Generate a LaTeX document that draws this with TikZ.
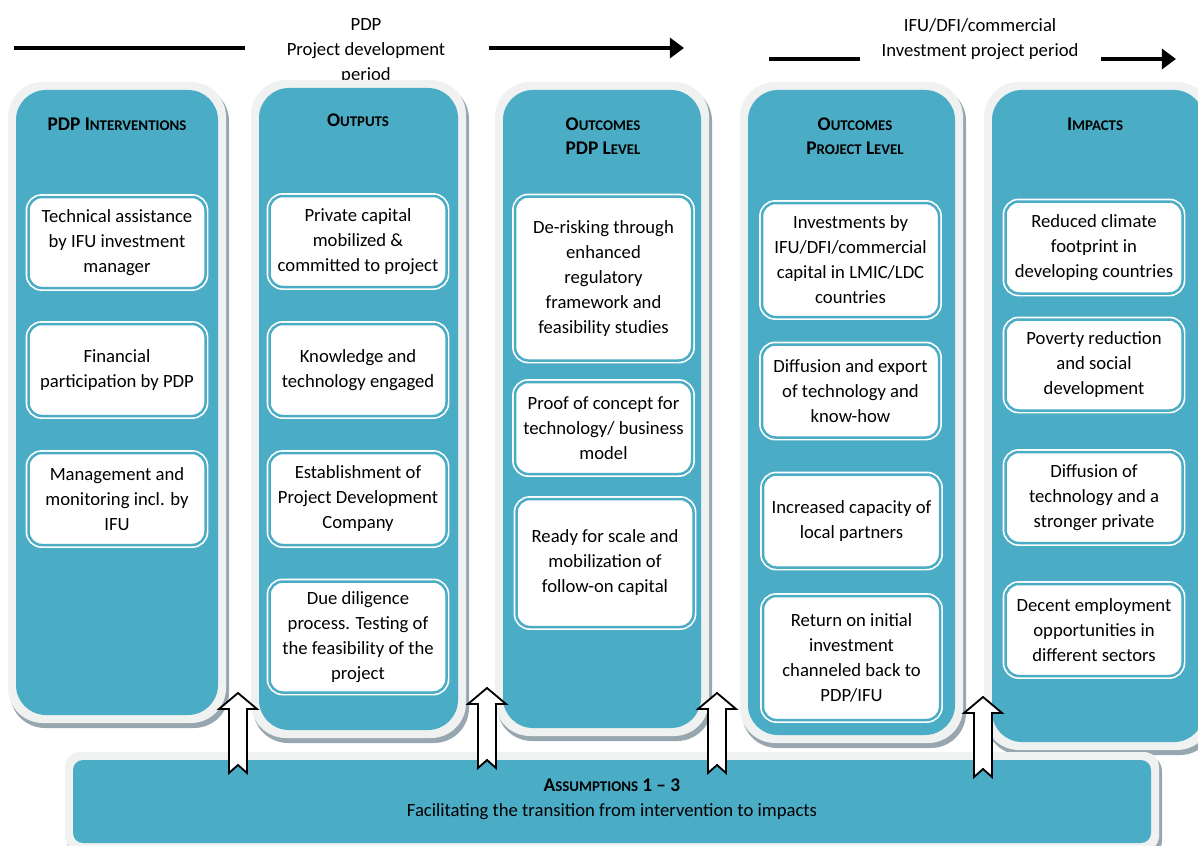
\documentclass[tikz,border=0pt]{standalone}
\usepackage{fontspec}
\setmainfont{Carlito}
\usepackage{tikz}
\usetikzlibrary{arrows.meta}

\newdimen\px \px=0.6pt
\definecolor{ifuteal}{RGB}{75,172,198}
\definecolor{rimgrey}{RGB}{240,241,241}
\definecolor{shadegrey}{RGB}{152,167,175}
\newcommand{\hcap}[2]{{\fontsize{11.6}{14}\selectfont #1}{\fontsize{8.9}{14}\selectfont #2}}
\newcommand{\tealcol}[5]{%
  \fill[shadegrey, rounded corners=#5+3pt] (#1-6,#2-4) rectangle (#3+11,#4+13);
  \fill[rimgrey, rounded corners=#5+3pt] (#1-8,#2-8) rectangle (#3+8,#4+8);
  \fill[ifuteal, rounded corners=#5] (#1,#2) rectangle (#3,#4);}

\tikzset{
  box/.style={draw=white, double=ifuteal, double distance=1.5pt, line width=1pt, fill=white,
    rounded corners=8pt, align=center, inner sep=1pt, minimum width=177*\px, minimum height=#1*\px,
    font=\fontsize{11.2}{15}\selectfont},
  head/.style={align=center, font=\bfseries\fontsize{11.2}{14.4}\selectfont},
  plain/.style={align=center, font=\fontsize{11.2}{15}\selectfont},
  timeline/.style={line width=2.4pt},
  blockup/.pic={\draw[fill=white, line width=1.1pt, line join=miter] (0,0) -- (19,16) -- (9,16) -- (9,80) -- (0,72) -- (-9,80) -- (-9,16) -- (-19,16) -- cycle;}
}

\begin{document}
\begin{tikzpicture}[x=0.6pt,y=-0.6pt]
\useasboundingbox (0,0) rectangle (1198,845);
\clip (0,0) rectangle (1198,845);

% periods
\node[plain] (pdp) at (366,51) {PDP\\Project development\\period};
\coordinate (t1a) at (14,48); \coordinate (t1b) at (245,48);
\coordinate (t2a) at (489,48); \coordinate (t2b) at (684,48);
\draw[timeline] (t1a) -- (t1b);
\draw[timeline,-{Triangle[length=8.5pt,width=12pt]}] (t2a) -- (t2b);
\node[plain] (ifu) at (980,39) {IFU/DFI/commercial\\Investment project period};
\coordinate (t3a) at (769,59); \coordinate (t3b) at (860,59);
\coordinate (t4a) at (1101,59); \coordinate (t4b) at (1176,59);
\draw[timeline] (t3a) -- (t3b);
\draw[timeline,-{Triangle[length=8.5pt,width=12pt]}] (t4a) -- (t4b);

% columns
\tealcol{16}{90}{218}{715}{18pt}
\tealcol{259}{88}{458}{730}{18pt}
\tealcol{503}{90}{701}{728}{18pt}
\tealcol{748}{90}{955}{735}{18pt}
\tealcol{992}{90}{1204}{742}{18pt}
\tealcol{73}{760}{1151}{843}{6pt}

\node[head] (h1) at (117,124) {\hcap{PDP I}{NTERVENTIONS}};
\node[head] (h2) at (358,120) {\hcap{O}{UTPUTS}};
\node[head] (h3) at (603,136) {\hcap{O}{UTCOMES}\\\hcap{PDP L}{EVEL}};
\node[head] (h4) at (855,136) {\hcap{O}{UTCOMES}\\\hcap{P}{ROJECT} \hcap{L}{EVEL}};
\node[head] (h5) at (1095,124) {\hcap{I}{MPACTS}};

\node[box=91] (b11) at (117,242.5) {Technical assistance\\by IFU investment\\manager};
\node[box=92] (b12) at (117,370) {Financial\\participation by PDP};
\node[box=92] (b13) at (117,499) {Management and\\monitoring incl. by\\IFU};

\node[box=91] (b21) at (358,241.5) {Private capital\\mobilized \&\\committed to project};
\node[box=92] (b22) at (358,370) {Knowledge and\\technology engaged};
\node[box=92] (b23) at (358,499) {Establishment of\\Project Development\\Company};
\node[box=111] (b24) at (358,637) {Due diligence\\process. Testing of\\the feasibility of the\\project};

\node[box=164] (b31) at (603.5,278.5) {De-risking through\\enhanced\\regulatory\\framework and\\feasibility studies};
\node[box=92] (b32) at (603.5,428) {Proof of concept for\\technology/ business\\model};
\node[box=128] (b33) at (605,563) {Ready for scale and\\mobilization of\\follow-on capital};

\node[box=114] (b41) at (850.5,260) {Investments by\\IFU/DFI/commercial\\capital in LMIC/LDC\\countries};
\node[box=93] (b42) at (850.5,391) {Diffusion and export\\of technology and\\know-how};
\node[box=93] (b43) at (851.5,521) {Increased capacity of\\local partners};
\node[box=124] (b44) at (851.5,658) {Return on initial\\investment\\channeled back to\\PDP/IFU};

\node[box=92] (b51) at (1094,247.5) {Reduced climate\\footprint in\\developing countries};
\node[box=91] (b52) at (1094,365) {Poverty reduction\\and social\\development};
\node[box=91] (b53) at (1094,497.5) {Diffusion of\\technology and a\\stronger private};
\node[box=92] (b54) at (1094,630) {Decent employment\\opportunities in\\different sectors};

% assumptions
\node[plain] (assume) at (612,799) {\textbf{\hcap{A}{SSUMPTIONS} \hcap{1 -- 3}{}}\\Facilitating the transition from intervention to impacts};

\pic at (238,693) {blockup};
\pic at (487,688) {blockup};
\pic at (717,693) {blockup};
\pic at (983,697) {blockup};
\end{tikzpicture}
\end{document}
